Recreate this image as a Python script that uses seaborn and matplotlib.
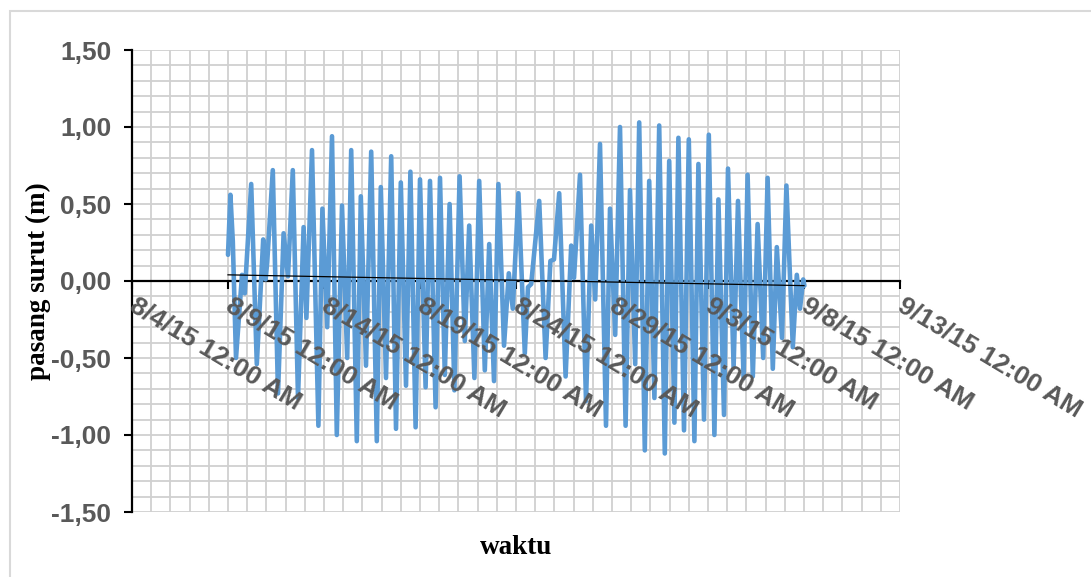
import numpy as np
import pandas as pd
import matplotlib
matplotlib.use("Agg")
import matplotlib.pyplot as plt
import matplotlib.dates as mdates
import matplotlib.ticker as mticker
import matplotlib.transforms as mtransforms
from matplotlib.patches import Rectangle
import seaborn as sns

# ---------------- data ----------------
start_time = "2015-08-09 00:00"
hours = [0, 3, 6, 10, 17.5, 21, 29, 36, 44, 47,
         49, 56, 62.5, 69.5, 75, 81, 87.5, 94.5, 98, 105,
         113, 118, 124, 130, 136, 142.5, 149, 154, 161, 166,
         172.5, 179, 186, 191, 197.5, 204, 210, 216, 222.5, 228,
         234.5, 240, 247, 252.5, 259.5, 265, 271, 277, 283, 289.5,
         296, 301.5, 308, 314, 321, 326.5, 332.5, 338, 345, 351,
         356, 363, 371, 375, 379, 389, 397, 403, 407.5, 414,
         422, 429, 432.5, 440, 447.5, 454, 459, 465, 472.5, 477.5,
         484, 490, 497, 502.5, 509, 514, 521, 526.5, 533, 539,
         546, 551.5, 558, 563, 570, 576, 583, 588, 595, 601,
         608, 613, 620, 625, 632, 637.5, 644.5, 649.5, 656, 662,
         669, 674.5, 681, 686, 692.5, 698, 706, 711, 715, 719,
         720.5]
levels = [0.17, 0.56, 0.26, -0.50, 0.04, -0.08, 0.63, -0.54, 0.27, 0.01,
          0.12, 0.72, -0.73, 0.31, 0.03, 0.72, -0.76, 0.35, -0.24, 0.85,
          -0.94, 0.47, -0.30, 0.94, -1.00, 0.49, -0.50, 0.85, -1.04, 0.55,
          -0.55, 0.84, -1.04, 0.61, -0.63, 0.81, -0.96, 0.64, -0.68, 0.71,
          -0.95, 0.66, -0.69, 0.65, -0.82, 0.67, -0.61, 0.50, -0.71, 0.68,
          -0.39, 0.36, -0.63, 0.65, -0.58, 0.24, -0.65, 0.63, -0.42, 0.05,
          -0.18, 0.57, -0.47, -0.04, -0.02, 0.52, -0.50, 0.13, 0.14, 0.57,
          -0.62, 0.23, 0.02, 0.69, -0.78, 0.36, -0.12, 0.89, -0.94, 0.47,
          -0.35, 1.00, -0.94, 0.59, -0.54, 1.03, -1.10, 0.65, -0.76, 1.01,
          -1.12, 0.78, -0.92, 0.93, -0.97, 0.92, -1.04, 0.76, -0.90, 0.95,
          -1.00, 0.53, -0.87, 0.73, -0.56, 0.52, -0.63, 0.69, -0.62, 0.37,
          -0.50, 0.67, -0.57, 0.22, -0.37, 0.62, -0.43, 0.04, -0.18, 0.01,
          -0.03]
trend_hours = [0, 720]
trend_levels = [0.04, -0.03]

x_tick_dates = ["2015-08-04", "2015-08-09", "2015-08-14", "2015-08-19", "2015-08-24",
                "2015-08-29", "2015-09-03", "2015-09-08", "2015-09-13"]
x_tick_labels = ["8/4/15 12:00 AM", "8/9/15 12:00 AM", "8/14/15 12:00 AM",
                 "8/19/15 12:00 AM", "8/24/15 12:00 AM", "8/29/15 12:00 AM",
                 "9/3/15 12:00 AM", "9/8/15 12:00 AM", "9/13/15 12:00 AM"]
y_ticks = [-1.5, -1.0, -0.5, 0.0, 0.5, 1.0, 1.5]
y_tick_labels = ["-1,50", "-1,00", "-0,50", "0,00", "0,50", "1,00", "1,50"]

x_label = "waktu"
y_label = "pasang surut (m)"

# ---------------- figure ----------------
W, H = 1091, 577
fig = plt.figure(figsize=(W / 100, H / 100), dpi=100)
fig.patch.set_facecolor("white")
rect = [132 / W, 1 - 512 / H, 768 / W, 462 / H]
ax = fig.add_axes(rect)

t0 = pd.Timestamp(start_time)
df = pd.DataFrame({"waktu": mdates.date2num(t0 + pd.to_timedelta(hours, unit="h")),
                   "pasang": levels})
tr = pd.DataFrame({"waktu": mdates.date2num(t0 + pd.to_timedelta(trend_hours, unit="h")),
                   "pasang": trend_levels})

sns.lineplot(data=df, x="waktu", y="pasang", ax=ax, color="#5B9BD5",
             linewidth=3.3, zorder=3, solid_joinstyle="round",
             solid_capstyle="round")
sns.lineplot(data=tr, x="waktu", y="pasang", ax=ax, color="black",
             linewidth=0.9, zorder=4)

xt = mdates.date2num(pd.to_datetime(x_tick_dates))
ax.set_xlim(xt[0], xt[-1])
ax.set_ylim(-1.5, 1.5)

# ticks
ax.xaxis.set_major_locator(mticker.FixedLocator(xt))
ax.xaxis.set_major_formatter(mticker.FixedFormatter(x_tick_labels))
ax.xaxis.set_minor_locator(mticker.MultipleLocator(1.0))
ax.yaxis.set_major_locator(mticker.FixedLocator(y_ticks))
ax.yaxis.set_major_formatter(mticker.FixedFormatter(y_tick_labels))
ax.yaxis.set_minor_locator(mticker.MultipleLocator(0.1))

ax.tick_params(axis="both", which="major", direction="out", length=6,
               width=1.5, color="black", labelcolor="#595959", labelsize=19)
ax.tick_params(axis="x", which="major", labelbottom=False)
ax.tick_params(axis="y", which="major", pad=9)
ax.tick_params(which="minor", length=0)

# grid
ax.set_axisbelow(True)
ax.grid(which="both", color="#D0D0D0", linewidth=1.3)

# spines
ax.spines["bottom"].set_position(("data", 0))
ax.spines["top"].set_visible(False)
ax.spines["right"].set_visible(False)
for s in ("left", "bottom"):
    ax.spines[s].set_linewidth(1.6)
    ax.spines[s].set_color("black")

# labels
ax.set_xlabel(x_label, fontfamily=["Liberation Serif", "DejaVu Serif"],
              fontweight="bold", fontsize=19.5, color="black")
ax.set_ylabel(y_label, fontfamily=["Liberation Serif", "DejaVu Serif"],
              fontweight="bold", fontsize=19.5, color="black")
ax.xaxis.set_label_coords(0.5, (512 - 548) / 462)
ax.xaxis.label.set_va("center")
ax.yaxis.set_label_coords((38 - 132) / 768, 0.5)
ax.yaxis.label.set_va("center")

# overlay axes: x tick labels drawn above the data line (as in the reference)
ax2 = fig.add_axes(rect, sharex=ax, sharey=ax, zorder=5)
ax2.set_facecolor("none")
for s in ax2.spines.values():
    s.set_visible(False)
ax2.spines["bottom"].set_position(("data", 0))
ax2.grid(False)
ax2.tick_params(axis="y", which="both", left=False, labelleft=False)
ax2.tick_params(axis="x", which="minor", length=0)
ax2.tick_params(axis="x", which="major", length=6, color=(0, 0, 0, 0),
                labelcolor="#595959", labelsize=19, pad=4, labelbottom=True)
ax2.set_xlabel("")
ax2.set_ylabel("")

# chart border
fig.patches.append(Rectangle((10 / W, -0.1), 1.2, 1 - 11 / H + 0.1,
                             transform=fig.transFigure, fill=False,
                             edgecolor="#D9D9D9", linewidth=1.5))

fig.canvas.draw()
shift = mtransforms.ScaledTranslation(6 / 100, 2 / 100, fig.dpi_scale_trans)
for lab in ax2.get_xticklabels():
    lab.set_rotation(-31)
    lab.set_ha("left")
    lab.set_va("top")
    lab.set_rotation_mode("anchor")
    lab.set_transform(lab.get_transform() + shift)
for lab in ax2.get_xticklabels() + ax.get_yticklabels():
    lab.set_fontfamily(["Liberation Sans", "DejaVu Sans"])
    lab.set_fontweight("bold")

fig.savefig("out.png", dpi=100)
